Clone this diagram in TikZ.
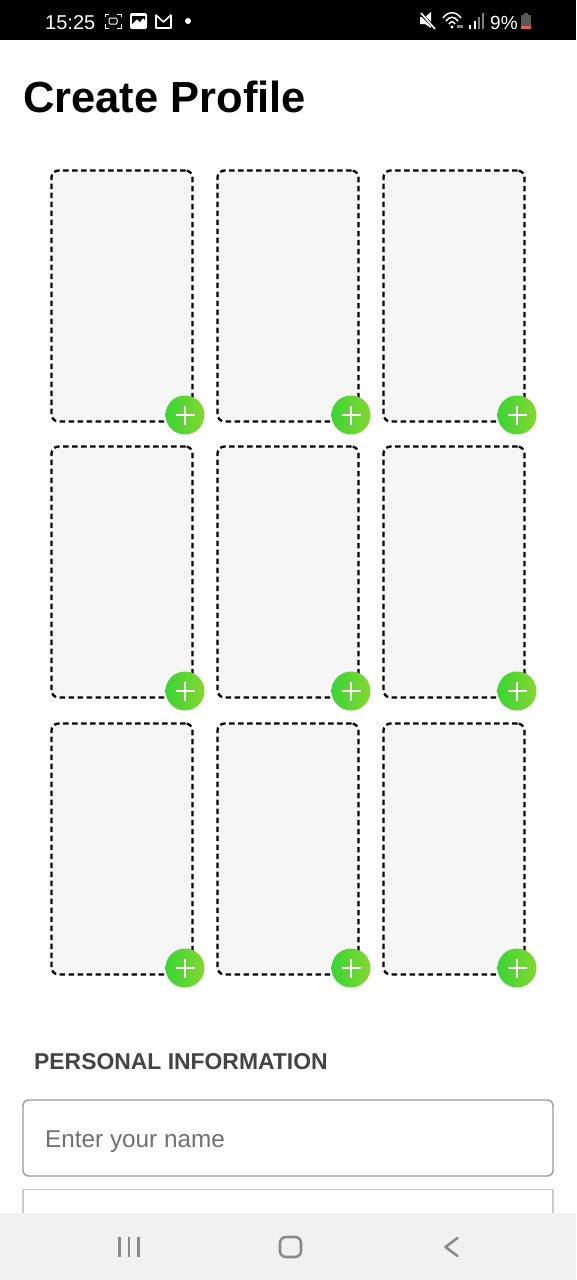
\documentclass[tikz,border=0pt]{standalone}
\usepackage{fontspec}
\setmainfont{Liberation Sans}
\usetikzlibrary{positioning, calc}
\definecolor{cardfill}{HTML}{F6F6F6}
\definecolor{navfill}{HTML}{F1F1F1}
\definecolor{navicon}{HTML}{8A8A8A}
\definecolor{addleft}{HTML}{3AD536}
\definecolor{addright}{HTML}{86D632}
\definecolor{headgray}{HTML}{444444}
\definecolor{hintgray}{HTML}{707070}
\definecolor{batorange}{HTML}{E0673C}
\tikzset{
    card/.style={draw=black, fill=cardfill, rounded corners=7pt, line width=2.3pt,
        dash pattern=on 5.5pt off 3.5pt, minimum width=141pt, minimum height=251pt, inner sep=0pt},
    addbtn/.style={circle, minimum size=39pt, inner sep=0pt, left color=addleft, right color=addright},
    addbar/.style={white, line width=2.7pt},
    field/.style={rounded corners=5pt, line width=1.4pt, fill=white},
    label/.style={anchor=base west, inner sep=0pt},
    navline/.style={navicon, line width=2.6pt},
    staticon/.style={white, line width=1.2pt}
}
\begin{document}
\begin{tikzpicture}[x=1pt, y=-1pt]
    \useasboundingbox (0,0) rectangle (576,1280);
    \fill[white] (0,0) rectangle (576,1280);
    % status bar
    \fill[black] (0,0) rectangle (576,40);
    \node[label, white, font=\fontsize{20}{24}\selectfont] (clock) at (45,29) {15:25};
    \draw[staticon, line width=1pt] (105,17) |- (109,14) (117,14) -| (121,17) (121,24) |- (117,28) (109,28) -| (105,24);
    \draw[staticon, line width=1pt, rounded corners=1pt] (109,18) rectangle (117,24);
    \fill[white, rounded corners=1.5pt] (130,13) rectangle (147,29);
    \fill[black] (132,24) -- (137,19) -- (140,22) -- (143,18) -- (145,20) -- (145,16) -- (132,16) -- cycle;
    \draw[staticon, line join=round, line width=1.6pt] (156,28) -- (156,15) -- (163.5,22) -- (171,15) -- (171,28) -- cycle;
    \fill[white] (188,21) circle (3pt);
    \fill[white] (420,17) -- (425,17) -- (431,12) -- (431,28) -- (425,24) -- (420,24) -- cycle;
    \draw[black, line width=3pt] (418,11) -- (438,31);
    \draw[white, line width=1.6pt] (421,13) -- (435,29);
    \draw[staticon, line width=1.5pt] (443,18) .. controls (448,11) and (456,11) .. (461,18);
    \draw[staticon, line width=1.5pt] (446,21) .. controls (450,16) and (454,16) .. (458,21);
    \draw[staticon, line width=1.5pt] (449,24) .. controls (451,21) and (453,21) .. (455,24);
    \fill[white] (452,27) circle (1.6pt);
    \fill[gray] (457,25) rectangle (463,28);
    \fill[white] (469,25) rectangle (471,29);
    \fill[white] (473.5,21) rectangle (475.5,29);
    \fill[gray] (478,17) rectangle (480,29);
    \fill[gray] (482,13) rectangle (484,29);
    \node[label, white, font=\fontsize{19}{24}\selectfont] (batt) at (490,29) {9\%};
    \fill[gray!70!black] (524,13) rectangle (528,15);
    \fill[gray!70!black] (521,15) rectangle (531,26);
    \fill[batorange] (521,26) rectangle (531,29);
    % title
    \node[label, font=\fontsize{43.5}{48}\selectfont\bfseries] (title) at (23,112) {Create Profile};
    % photo slots
    \foreach \row/\y in {1/296, 2/572, 3/849} {
        \foreach \col/\x in {1/122, 2/288, 3/454} {
            \node[card] (c\row\col) at (\x,\y) {};
            \node[addbtn] (p\row\col) at ($(\x,\y)+(63,119)$) {};
            \draw[addbar] ($(p\row\col)+(-9.5,0)$) -- ($(p\row\col)+(9.5,0)$);
            \draw[addbar] ($(p\row\col)+(0,-9.5)$) -- ($(p\row\col)+(0,9.5)$);
        }
    }
    % form
    \node[label, headgray, font=\fontsize{22.9}{28}\selectfont\bfseries] (head) at (34,1069) {PERSONAL INFORMATION};
    \draw[field, draw=black!40] (23,1100) rectangle (553,1176);
    \node[label, hintgray, font=\fontsize{24.3}{28}\selectfont] (hint) at (45,1147) {Enter your name};
    \draw[field, draw=black!20, rounded corners=0pt] (23,1189.5) rectangle (553,1230);
    % nav bar
    \fill[navfill] (0,1213) rectangle (576,1280);
    \foreach \x in {119.5,129,138.5} {
        \draw[navline] (\x,1237) -- (\x,1257);
    }
    \draw[navline, rounded corners=6pt] (280,1237) rectangle (301,1257);
    \draw[navline, line cap=round, line join=round] (457.5,1238) -- (445.5,1247) -- (457.5,1256);
\end{tikzpicture}
\end{document}
